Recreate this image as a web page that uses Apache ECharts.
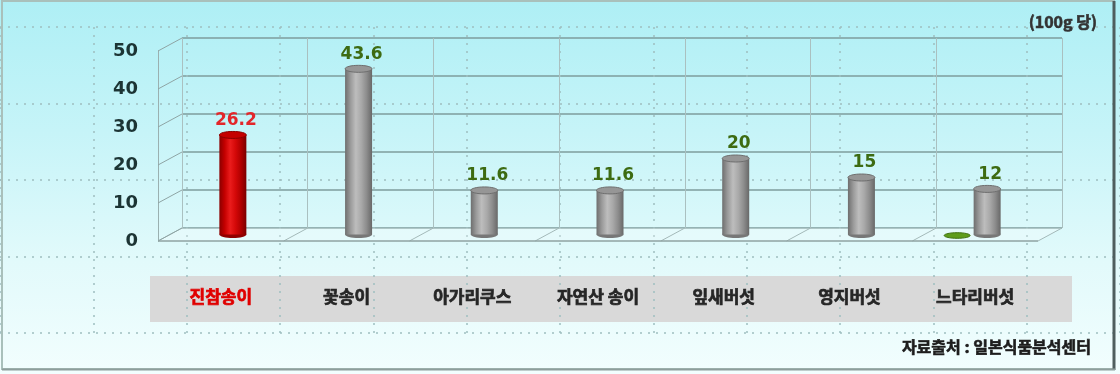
<!DOCTYPE html>
<html><head><meta charset="utf-8">
<script src="https://cdn.jsdelivr.net/npm/echarts@6/dist/echarts.min.js"></script>
<style>
html,body{margin:0;padding:0;background:#fff}
#c{width:1120px;height:374px;background:linear-gradient(180deg,#aeeff5 0%,#c6f4f8 35%,#e2fafb 70%,#f2fefe 100%)}
</style>
</head><body><div id="c"></div>
<script>
// ---- data ----
const categories = ['진참송이', '꽃송이', '아가리쿠스', '자연산 송이', '잎새버섯', '영지버섯', '느타리버섯'];
const values = [26.2, 43.6, 11.6, 11.6, 20, 15, 12];
const secondValues = [null, null, null, null, null, null, 0];
const yTicks = [0, 10, 20, 30, 40, 50];
const unitLabel = '(100g 당)';
const sourceLabel = '자료출처 : 일본식품분석센터';
const highlightCategory = '진참송이';

// ---- style ----
const DX = 24, DY = -13;
const yMin = yTicks[0], yMax = yTicks[yTicks.length - 1], yStep = yTicks[1] - yTicks[0];
const numFont = '"DejaVu Sans", "Liberation Sans", sans-serif';
const krFont = '"Noto Sans CJK KR", "Noto Sans", sans-serif';
const chart = echarts.init(document.getElementById('c'), null, { renderer: 'canvas' });

function grad(stops) {
  return new echarts.graphic.LinearGradient(0, 0, 1, 0, stops.map((c, i) => ({ offset: i / (stops.length - 1), color: c })));
}
const grayBody = grad(['#6e6e6e', '#9a9a9a', '#bdbdbd', '#a9a9a9', '#8c8c8c', '#686868']);
const redBody = grad(['#8a0000', '#c40000', '#ea1c1c', '#d40808', '#b00000', '#7a0000']);

function cylinder(cx, yt, yb, w, red) {
  const ry = 3.5;
  return [
    { type: 'ellipse', shape: { cx: cx, cy: yb, rx: w / 2, ry: ry }, style: { fill: red ? '#900000' : '#777' } },
    { type: 'rect', shape: { x: cx - w / 2, y: yt, width: w, height: Math.max(0, yb - yt) }, style: { fill: red ? redBody : grayBody } },
    { type: 'ellipse', shape: { cx: cx, cy: yt, rx: w / 2, ry: ry }, style: { fill: red ? '#c40000' : '#969696', stroke: red ? '#8a0000' : '#6e6e6e', lineWidth: 1 } }
  ];
}

const hiddenAxis = { axisLine: { show: false }, axisTick: { show: false }, axisLabel: { show: false } };
const catText = { fontSize: 17, fontWeight: 'bold', fontFamily: krFont, textBorderWidth: 0.7 };

const option = {
  animation: false,
  grid: [
    { left: -2, top: 27, width: 1134, height: 306 },         // background dotted grid
    { left: 182, top: 38, width: 880, height: 190 },         // back wall
    { left: 158, top: 51, width: 880, height: 190 }          // front plane
  ],
  xAxis: [
    Object.assign({ gridIndex: 0, type: 'value', min: 0, max: 12, interval: 1,
      splitLine: { show: true, lineStyle: { color: '#9ebfc0', type: [2, 6], width: 1.5 } } }, hiddenAxis),
    Object.assign({ gridIndex: 1, type: 'category', data: categories, boundaryGap: true,
      splitLine: { show: true, lineStyle: { color: '#aac0c0', width: 1 } } }, hiddenAxis),
    { gridIndex: 2, type: 'category', data: categories, boundaryGap: true,
      axisLine: { show: false }, axisTick: { show: false }, splitLine: { show: false },
      axisLabel: { margin: 47,
        formatter: (v) => (v === highlightCategory ? '{h|' : '{n|') + v + '}',
        rich: {
          h: Object.assign({ color: '#e00000', textBorderColor: '#e00000' }, catText),
          n: Object.assign({ color: '#262626', textBorderColor: '#262626' }, catText)
        } } }
  ],
  yAxis: [
    Object.assign({ gridIndex: 0, type: 'value', min: 0, max: 4, interval: 1,
      splitLine: { show: true, lineStyle: { color: '#9ebfc0', type: [2, 6], width: 1.5 } } }, hiddenAxis),
    Object.assign({ gridIndex: 1, type: 'value', min: yMin, max: yMax, interval: yStep,
      splitLine: { show: true, lineStyle: { color: '#7e9c9c', width: 1.5 } } }, hiddenAxis),
    { gridIndex: 2, type: 'value', min: yMin, max: yMax, interval: yStep,
      axisLine: { show: true, lineStyle: { color: '#9ab0b0', width: 1 } }, axisTick: { show: false },
      splitLine: { show: false },
      axisLabel: { margin: 20, fontSize: 18, fontWeight: 'bold', fontFamily: numFont, color: '#1c3434' } }
  ],
  graphic: [
    { type: 'rect', z: -1, shape: { x: 150, y: 276, width: 922, height: 46 }, style: { fill: '#d9d9d9' } },
    { type: 'rect', z: 50, shape: { x: 2, y: 1, width: 1112, height: 368 }, style: { fill: 'none', stroke: '#a9c0bb', lineWidth: 2 } },
    { type: 'line', z: 50, shape: { x1: 1114, y1: 1, x2: 1114, y2: 370 }, style: { stroke: '#4f5e5e', lineWidth: 3 } },
    { type: 'line', z: 50, shape: { x1: 2, y1: 369.5, x2: 1115, y2: 369.5 }, style: { stroke: '#8e9e9c', lineWidth: 2 } },
    { type: 'text', z: 60, x: 1097, y: 22, style: { text: unitLabel, font: 'bold 16px ' + krFont, fill: '#333', stroke: '#333', lineWidth: 0.6, align: 'right', verticalAlign: 'middle', textAlign: 'right', textVerticalAlign: 'middle' } },
    { type: 'text', z: 60, x: 1091, y: 347, style: { text: sourceLabel, font: 'bold 16px ' + krFont, fill: '#1d1d1d', stroke: '#1d1d1d', lineWidth: 0.6, align: 'right', verticalAlign: 'middle', textAlign: 'right', textVerticalAlign: 'middle' } }
  ],
  series: [
    { // 3D floor and depth ticks
      type: 'custom', xAxisIndex: 2, yAxisIndex: 2, clip: false, silent: true, z: 1,
      data: [[0, yMin]],
      renderItem: function (params, api) {
        const n = categories.length;
        const band = api.size([1, 0])[0];
        const c0 = api.coord([0, yMin]);
        const xl = c0[0] - band / 2, xr = xl + n * band, y0 = c0[1];
        const ch = [];
        ch.push({ type: 'polygon', shape: { points: [[xl, y0], [xr, y0], [xr + DX, y0 + DY], [xl + DX, y0 + DY]] }, style: { fill: 'rgba(255,255,255,0.25)' } });
        for (let i = 0; i <= n; i++) {
          const x = xl + i * band;
          ch.push({ type: 'line', shape: { x1: x, y1: y0, x2: x + DX, y2: y0 + DY }, style: { stroke: '#a3b8b8', lineWidth: 1 } });
        }
        ch.push({ type: 'line', shape: { x1: xl, y1: y0, x2: xr, y2: y0 }, style: { stroke: '#8ea2a2', lineWidth: 1.5 } });
        yTicks.forEach(function (v) {
          const y = api.coord([0, v])[1];
          ch.push({ type: 'line', shape: { x1: xl, y1: y, x2: xl + DX, y2: y + DY }, style: { stroke: '#8ea4a4', lineWidth: 1 } });
        });
        return { type: 'group', children: ch };
      }
    },
    { // cylinders
      type: 'custom', xAxisIndex: 2, yAxisIndex: 2, clip: false, z: 5,
      data: values.map((v, i) => [i, v]),
      renderItem: function (params, api) {
        const i = api.value(0), v = api.value(1);
        const p0 = api.coord([i, yMin]), p1 = api.coord([i, v]);
        const cx = p0[0] + DX / 2, yb = p0[1] + DY / 2, yt = p1[1] + DY / 2;
        const red = categories[i] === highlightCategory;
        const ch = cylinder(cx, yt, yb, 27, red);
        ch.push({ type: 'text', x: cx + 3, y: yt - 6, style: { text: String(v), font: 'bold 17px ' + numFont,
          fill: red ? '#e3262a' : '#3d6b12', align: 'center', verticalAlign: 'bottom', textAlign: 'center', textVerticalAlign: 'bottom' } });
        return { type: 'group', children: ch };
      }
    },
    { // second (near-zero) series
      type: 'custom', xAxisIndex: 2, yAxisIndex: 2, clip: false, z: 4,
      data: secondValues.map((v, i) => [i, v]).filter(d => d[1] !== null),
      renderItem: function (params, api) {
        const i = api.value(0), v = api.value(1);
        const p0 = api.coord([i, yMin]), p1 = api.coord([i, v]);
        const cx = p0[0] + DX / 2 - 30, yb = p0[1] + DY / 2 + 1, yt = p1[1] + DY / 2 + 1;
        return { type: 'group', children: [
          { type: 'rect', shape: { x: cx - 13, y: yt, width: 26, height: Math.max(0, yb - yt) }, style: { fill: '#4f8a14' } },
          { type: 'ellipse', shape: { cx: cx, cy: yt, rx: 13, ry: 2.8 }, style: { fill: '#5e9c1c', stroke: '#3f7010', lineWidth: 1 } }
        ] };
      }
    }
  ]
};
chart.setOption(option);
</script>
</body></html>
